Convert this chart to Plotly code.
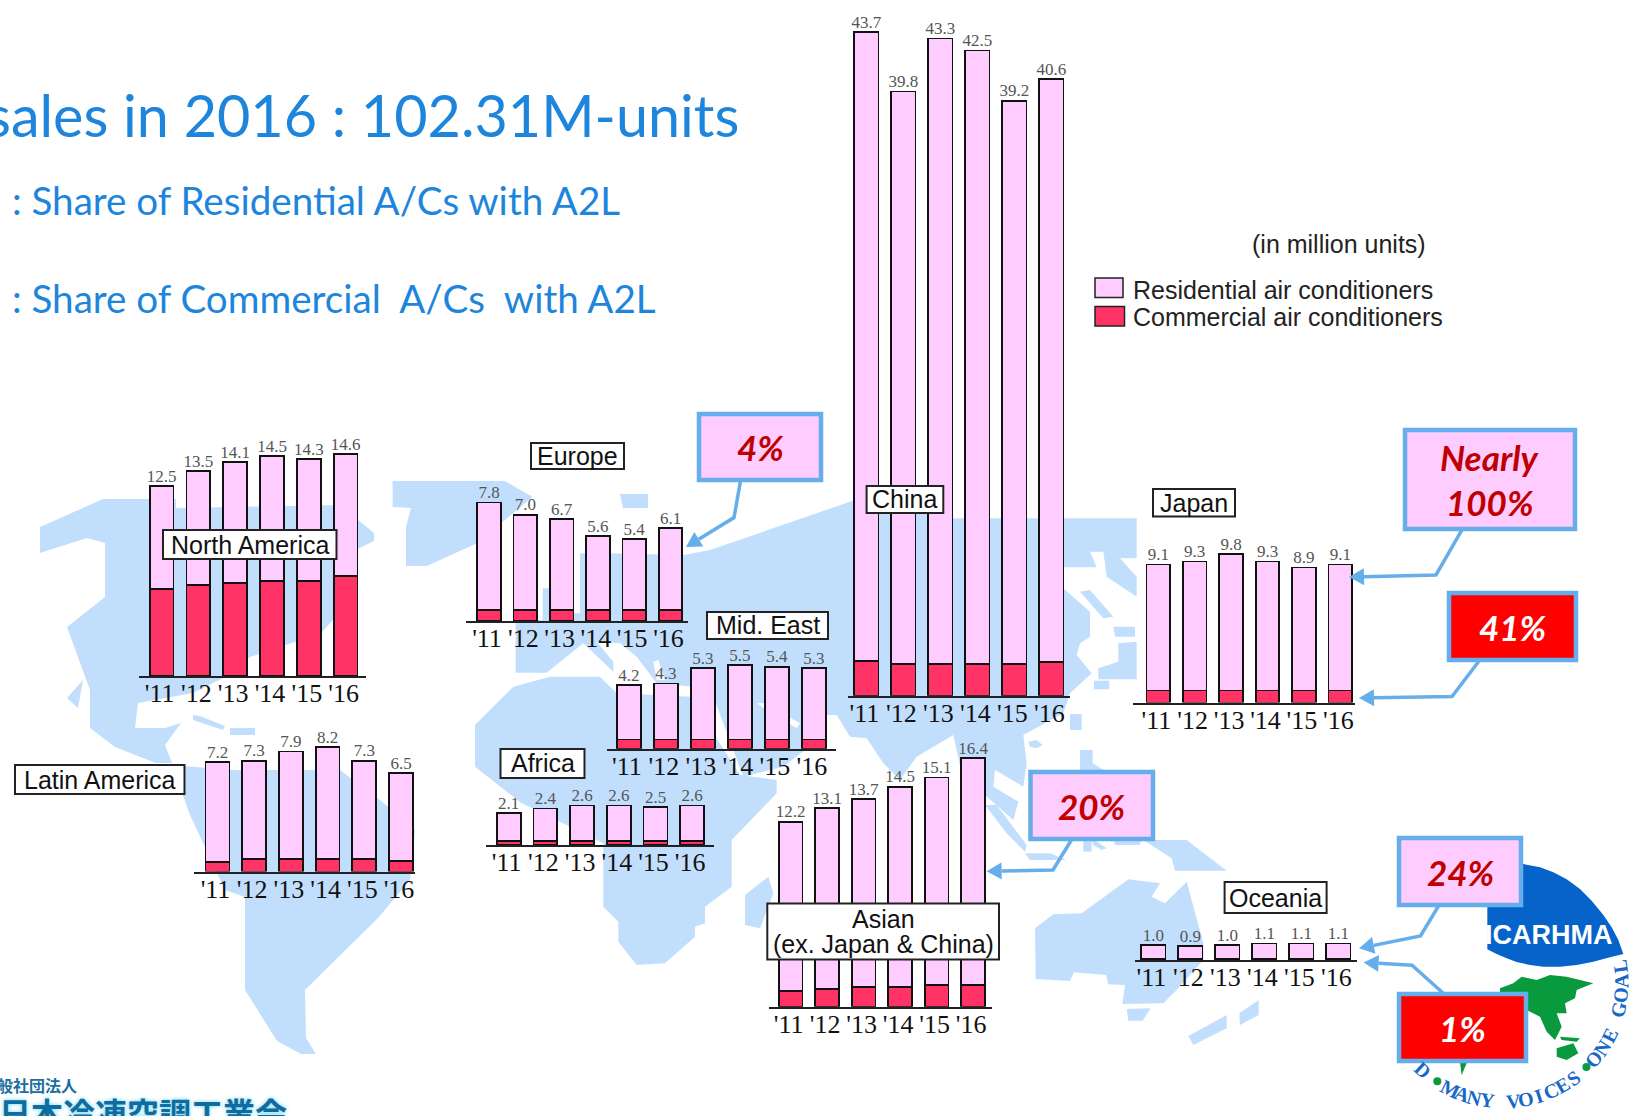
import math
import plotly.graph_objects as go

W, H = 1633, 1116
YEARS = ["'11", "'12", "'13", "'14", "'15", "'16"]

# ---------- data (million units) ----------
NA_TOTAL = [12.5, 13.5, 14.1, 14.5, 14.3, 14.6]
NA_COMM = [5.75, 6.0, 6.1, 6.25, 6.25, 6.6]
LATAM_TOTAL = [7.2, 7.3, 7.9, 8.2, 7.3, 6.5]
LATAM_COMM = [0.6, 0.8, 0.8, 0.8, 0.8, 0.7]
EUROPE_TOTAL = [7.8, 7.0, 6.7, 5.6, 5.4, 6.1]
EUROPE_COMM = [0.7, 0.7, 0.7, 0.7, 0.7, 0.7]
MIDEAST_TOTAL = [4.2, 4.3, 5.3, 5.5, 5.4, 5.3]
MIDEAST_COMM = [0.6, 0.6, 0.6, 0.6, 0.6, 0.6]
AFRICA_TOTAL = [2.1, 2.4, 2.6, 2.6, 2.5, 2.6]
AFRICA_COMM = [0.25, 0.25, 0.25, 0.25, 0.25, 0.25]
CHINA_TOTAL = [43.7, 39.8, 43.3, 42.5, 39.2, 40.6]
CHINA_COMM = [2.3, 2.1, 2.1, 2.1, 2.1, 2.2]
ASIA_TOTAL = [12.2, 13.1, 13.7, 14.5, 15.1, 16.4]
ASIA_COMM = [1.05, 1.15, 1.3, 1.3, 1.45, 1.45]
JAPAN_TOTAL = [9.1, 9.3, 9.8, 9.3, 8.9, 9.1]
JAPAN_COMM = [0.8, 0.8, 0.8, 0.8, 0.8, 0.8]
OCEANIA_TOTAL = [1.0, 0.9, 1.0, 1.1, 1.1, 1.1]
OCEANIA_COMM = [0.1, 0.1, 0.1, 0.1, 0.1, 0.1]

SERIES = [
    ("North America", NA_TOTAL, NA_COMM),
    ("Latin America", LATAM_TOTAL, LATAM_COMM),
    ("Europe", EUROPE_TOTAL, EUROPE_COMM),
    ("Mid. East", MIDEAST_TOTAL, MIDEAST_COMM),
    ("Africa", AFRICA_TOTAL, AFRICA_COMM),
    ("China", CHINA_TOTAL, CHINA_COMM),
    ("Asian", ASIA_TOTAL, ASIA_COMM),
    ("Japan", JAPAN_TOTAL, JAPAN_COMM),
    ("Oceania", OCEANIA_TOTAL, OCEANIA_COMM),
]

# ---------- placement on the page (pixels) ----------
PX_PER_UNIT = 15.18
# axis left, axis right, baseline, first bar centre, bar step
GEOM = {
    "North America": (139, 366, 676, 161.6, 36.8),
    "Latin America": (194, 415, 871.5, 217.5, 36.7),
    "Europe": (466, 688, 621, 489, 36.3),
    "Mid. East": (607, 836, 748.7, 628.8, 37.0),
    "Africa": (486, 714, 845, 508.7, 36.7),
    "China": (848, 1070, 695.7, 866.4, 37.0),
    "Asian": (768.5, 992, 1006.8, 790.7, 36.5),
    "Japan": (1133, 1355, 702.6, 1158.3, 36.4),
    "Oceania": (1135, 1357, 960, 1153.4, 37.0),
}
# x0, x1, y0, y1 and text lines of the region name boxes
LABEL_BOXES = [
    (163, 336.5, 530, 559, ["North America"]),
    (15, 184.5, 765, 794, ["Latin America"]),
    (531, 624, 443, 469, ["Europe"]),
    (707, 828, 612, 639, ["Mid. East"]),
    (500.5, 584.5, 749, 778, ["Africa"]),
    (866.6, 943.3, 486, 513, ["China"]),
    (767.3, 999, 903.5, 959.5, ["Asian", "(ex. Japan & China)"]),
    (1153, 1235, 489, 516.5, ["Japan"]),
    (1224.6, 1326.6, 882, 913, ["Oceania"]),
]
# callouts: box, fill, text colour, text lines, line route ending at arrow tip
CALLOUTS = [
    ((699, 821, 414, 480), "#FFCCFF", "#C00000", ["4%"], [(740.5, 481), (734, 517.6), (686, 547)]),
    ((1405, 1575, 430, 529), "#FFCCFF", "#C00000", ["Nearly", "100%"], [(1462.5, 529), (1436, 575), (1349, 577)]),
    ((1449, 1576, 593, 660), "#FF0000", "#FFFFFF", ["41%"], [(1479, 661), (1452, 696.5), (1359, 698)]),
    ((1030.5, 1153, 772, 839), "#FFCCFF", "#C00000", ["20%"], [(1071.4, 840), (1053, 870), (986.6, 871.3)]),
    ((1399, 1521, 838, 905), "#FFCCFF", "#C00000", ["24%"], [(1438.7, 905.7), (1420.5, 936), (1359, 948.3)]),
    ((1399, 1526, 994, 1061), "#FF0000", "#FFFFFF", ["1%"], [(1443, 993), (1412, 965.3), (1363.6, 962.5)]),
]

PINK = "#FFCCFF"
RED = "#FF3366"
MAPC = "#C1DFFC"
BLUE = "#66AEEB"
TITLE = "#1E85DC"

# map outlines, (origin x, origin y, divisor, points)
LAND = [
    (0, 0, 1, [(40, 527), (103, 499), (176, 499), (176, 508), (340, 505), (374, 533), (374, 541), (335, 560),
               (358, 593), (321, 633), (250, 657), (225, 677), (193, 693), (138, 703), (135, 728), (165, 728),
               (181, 723), (165, 745), (172, 763), (156, 763), (115, 747), (90, 728), (90, 690), (67, 627),
               (105, 597), (105, 543), (87, 538), (40, 553)]),
    (0, 0, 1, [(83, 680), (78, 708), (67, 698)]),
    (0, 0, 1, [(193, 715), (200, 716), (225, 726), (223, 730), (193, 720)]),
    (0, 0, 1, [(230, 728), (255, 728), (255, 735), (230, 735)]),
    (0, 0, 1, [(172, 765), (230, 770), (340, 770), (380, 800), (415, 830), (410, 880), (378, 918), (305, 990),
               (306, 1038), (316, 1054), (301, 1054), (277, 1041), (245, 990), (245, 897), (225, 890), (190, 815)]),
    (0, 0, 1, [(392.6, 481), (505, 481), (532.6, 497), (477.5, 543), (427, 566), (406, 566), (406, 527),
               (411, 508), (392.6, 507)]),
    (0, 0, 1, [(620, 494), (648, 494), (648, 508), (623, 508)]),
    (450, 480, 3, [(197, 578), (197, 420), (278, 420), (278, 325), (300, 325), (300, 400), (390, 400), (390, 220),
                   (480, 220), (700, 225), (780, 210), (1215, 60), (1500, 115), (2060, 115), (2060, 235),
                   (2010, 235), (2060, 290), (2060, 350), (1970, 290), (1960, 215), (1920, 215), (1940, 262),
                   (1840, 262), (1840, 325), (1920, 395), (1920, 470), (1890, 490), (1880, 525), (1925, 580),
                   (1860, 640), (1840, 700), (1720, 765), (1730, 850), (1720, 920), (1635, 870), (1630, 920),
                   (1705, 965), (1690, 1020), (1605, 945), (1535, 880), (1510, 765), (1400, 830), (1350, 900),
                   (1300, 850), (1250, 775), (1200, 770), (1160, 705), (1130, 705), (1130, 760), (1000, 860),
                   (880, 890), (790, 650), (730, 620), (620, 610), (560, 530), (510, 490), (440, 485), (490, 545),
                   (490, 575), (400, 490), (290, 578)]),
    (450, 480, 3, [(450, 590), (500, 640), (720, 650), (870, 885), (980, 900), (980, 940), (845, 1080), (845, 1220),
                   (765, 1280), (765, 1330), (735, 1340), (735, 1370), (645, 1450), (560, 1455), (505, 1385),
                   (505, 1325), (460, 1280), (460, 1090), (300, 1010), (215, 970), (75, 860), (75, 735), (190, 620),
                   (300, 590)]),
    (450, 480, 3, [(885, 1245), (955, 1190), (970, 1240), (930, 1345), (885, 1335)]),
    (850, 480, 3, [(690, 335), (720, 330), (790, 410), (760, 415)]),
    (850, 480, 3, [(790, 440), (855, 440), (855, 470), (795, 470)]),
    (850, 480, 3, [(805, 490), (860, 485), (860, 598), (745, 598), (745, 565), (805, 545)]),
    (850, 480, 3, [(732, 602), (778, 602), (778, 628), (732, 628)]),
    (850, 480, 3, [(660, 702), (695, 702), (695, 750), (660, 750)]),
    (850, 480, 3, [(535, 785), (560, 780), (578, 795), (560, 805), (540, 800)]),
    (850, 480, 3, [(690, 810), (728, 810), (728, 850), (770, 875), (690, 880)]),
    (850, 480, 3, [(405, 975), (440, 975), (530, 1095), (525, 1115), (470, 1060)]),
    (850, 480, 3, [(525, 1120), (600, 1120), (650, 1140), (540, 1140)]),
    (850, 480, 3, [(700, 1075), (725, 1075), (725, 1115), (700, 1115)]),
    (850, 480, 3, [(725, 1075), (770, 1105), (755, 1110), (730, 1095)]),
    (850, 480, 3, [(790, 1075), (875, 1075), (870, 1095), (795, 1095)]),
    (1000, 800, 3, [(430, 120), (560, 120), (680, 212), (525, 212), (515, 175)]),
    (1000, 800, 3, [(105, 385), (160, 343), (245, 340), (385, 238), (480, 250), (455, 290), (495, 310), (560, 245),
                    (610, 430), (610, 480), (530, 570), (490, 610), (367, 612), (375, 555), (325, 553), (318, 525),
                    (222, 517), (210, 543), (107, 537)]),
    (1000, 800, 3, [(380, 627), (452, 625), (428, 662), (385, 662)]),
    (1000, 800, 3, [(718, 640), (776, 600), (776, 645), (720, 675)]),
    (1000, 800, 3, [(565, 708), (680, 645), (680, 685), (580, 735)]),
]
WATER = [
    (450, 480, 3, [(920, 670), (945, 670), (1050, 730), (1040, 745)]),
    (450, 480, 3, [(610, 545), (625, 540), (645, 600), (620, 600)]),
]
LOGO_DISC = [(322, 72), (380, 68), (430, 72), (480, 82), (520, 97), (560, 118), (600, 147), (635, 182), (670, 225),
             (695, 262), (715, 300), (730, 342), (690, 352), (640, 365), (590, 375), (540, 380), (490, 380),
             (450, 375), (410, 366), (380, 355), (350, 342), (322, 328)]
LOGO_GREEN = [
    [(360, 445), (400, 430), (425, 410), (470, 420), (510, 405), (560, 410), (640, 430), (590, 450), (585, 475),
     (555, 490), (560, 520), (530, 520), (545, 560), (525, 600), (500, 575), (480, 530), (440, 510), (360, 500)],
    [(530, 625), (580, 610), (595, 640), (560, 660), (530, 650)],
    [(540, 590), (600, 595), (590, 605), (545, 600)],
    [(240, 665), (260, 670), (245, 705)],
]
LOGO_BOTTOM_TEXT = "MANY VOICES"
LOGO_RIGHT_TEXT = "ONE GOAL"


def px_path(points, close=True):
    s = "M " + " L ".join(f"{x / W:.5f} {1 - y / H:.5f}" for x, y in points)
    return s + (" Z" if close else "")


shapes, annos = [], []


def poly(points, fill, line=None, lw=0, layer="above"):
    shapes.append(dict(type="path", xref="paper", yref="paper", path=px_path(points), fillcolor=fill,
                       line=dict(color=line or "rgba(0,0,0,0)", width=lw), layer=layer))


def text(x, y, s, size, family="Liberation Sans", color="#111", anchor="center", angle=0, **font):
    annos.append(dict(xref="paper", yref="paper", x=x / W, y=1 - y / H, text=s, showarrow=False, xanchor=anchor,
                      yanchor="middle", textangle=angle, borderpad=0,
                      font=dict(size=size, family=family, color=color, **font)))


def box(x0, x1, y0, y1, fill, line, lw, layer="above"):
    poly([(x0, y0), (x1, y0), (x1, y1), (x0, y1)], fill, line, lw, layer)


# map
for ox, oy, d, pts in LAND:
    poly([(ox + x / d, oy + y / d) for x, y in pts], MAPC, layer="below")
for ox, oy, d, pts in WATER:
    poly([(ox + x / d, oy + y / d) for x, y in pts], "#FFFFFF", layer="below")

# logo
lx = lambda v: 1380 + v / 3
ly = lambda v: 840 + v / 3
poly([(lx(a), ly(b)) for a, b in LOGO_DISC], "#0563C9", layer="below")
for g in LOGO_GREEN:
    poly([(lx(a), ly(b)) for a, b in g], "#089A3C", layer="below")
text(1549, 935, "<b>ICARHMA</b>", 27, color="#FFFFFF")
CX, CY, CR = 1503.3, 983.3, 118


def ring(s, a0, a1):
    for i, ch in enumerate(s):
        a = a0 + (a1 - a0) * i / (len(s) - 1)
        r = math.radians(a)
        if ch != " ":
            text(CX + CR * math.sin(r), CY + CR * math.cos(r), "<b>" + ch + "</b>", 20, family="Liberation Serif",
                 color="#1768C8", angle=-a)


ring(LOGO_BOTTOM_TEXT, -26.5, 36.5)
ring(LOGO_RIGHT_TEXT, 50, 98)
text(CX + CR * math.sin(math.radians(-43)), CY + CR * math.cos(math.radians(-43)), "<b>D</b>", 20,
     family="Liberation Serif", color="#1768C8", angle=43)
for a in (-34, 44.8):
    r = math.radians(a)
    xc, yc = CX + CR * math.sin(r), CY + CR * math.cos(r)
    shapes.append(dict(type="circle", xref="paper", yref="paper", x0=(xc - 4) / W, x1=(xc + 4) / W,
                       y0=1 - (yc + 4) / H, y1=1 - (yc - 4) / H, fillcolor="#089A3C", line=dict(width=0),
                       layer="below"))

# heading texts
text(740, 114, "sales in 2016 : 102.31M-units", 57.5, family="Lato", color=TITLE, anchor="right")
text(11, 200, ": Share of Residential A/Cs with A2L", 38.6, family="Lato", color=TITLE, anchor="left")
text(11, 298, ": Share of Commercial\u00a0 A/Cs\u00a0 with A2L", 38.6, family="Lato", color=TITLE, anchor="left")

# legend
text(1339, 244, "(in million units)", 25, anchor="center", color="#222")
box(1095, 1123, 278, 297.5, PINK, "#222", 1.5)
box(1095, 1124.5, 306.5, 326, RED, "#222", 1.5)
text(1131.5, 290, "Residential air conditioners", 25, anchor="left", color="#222")
text(1131.5, 317, "Commercial air conditioners", 25, anchor="left", color="#222")

# charts
data = []
layout_axes = {}
for i, (name, total, comm) in enumerate(SERIES):
    n = i + 1
    left, right, base, c0, step = GEOM[name]
    ymax = max(total) * 1.02
    top = base - ymax * PX_PER_UNIT
    xa, ya = f"x{n}", f"y{n}"
    res = [round(t - c, 3) for t, c in zip(total, comm)]
    data.append(go.Bar(x=YEARS, y=comm, name="Commercial air conditioners", xaxis=xa, yaxis=ya,
                       marker=dict(color=RED, line=dict(color="#111", width=1.8)), showlegend=False))
    data.append(go.Bar(x=YEARS, y=res, name="Residential air conditioners", xaxis=xa, yaxis=ya,
                       marker=dict(color=PINK, line=dict(color="#111", width=1.8)), showlegend=False))
    data.append(go.Scatter(x=YEARS, y=total, mode="text", text=[f"{v:.1f}" for v in total],
                           textposition="top center", xaxis=xa, yaxis=ya, cliponaxis=False, showlegend=False,
                           textfont=dict(family="Liberation Serif", size=17, color="#555")))
    layout_axes[f"xaxis{n}"] = dict(domain=[left / W, right / W], anchor=ya, type="category",
                                    categoryorder="array", categoryarray=YEARS,
                                    range=[(left - c0) / step, (right - c0) / step], showgrid=False, zeroline=False,
                                    showline=True, linecolor="#222", linewidth=2, ticks="", fixedrange=True,
                                    ticklabelstandoff=-7, ticklabelshift=-2,
                                    tickfont=dict(family="Liberation Serif", size=26, color="#111"))
    layout_axes[f"yaxis{n}"] = dict(domain=[1 - base / H, 1 - top / H], anchor=xa, range=[0, ymax], visible=False,
                                    fixedrange=True)

# region name boxes
for x0, x1, y0, y1, lines in LABEL_BOXES:
    box(x0, x1, y0, y1, "#FFFFFF", "#222", 2)
    mid = (y0 + y1) / 2
    for k, ln in enumerate(lines):
        text((x0 + x1) / 2, mid + 25 * (k - (len(lines) - 1) / 2), ln, 25, color="#111")

# callouts
for (x0, x1, y0, y1), fill, col, lines, route in CALLOUTS:
    tip = route[-1]
    prev = route[-2]
    d = math.hypot(tip[0] - prev[0], tip[1] - prev[1])
    ux, uy = (tip[0] - prev[0]) / d, (tip[1] - prev[1]) / d
    bx, by = tip[0] - 15 * ux, tip[1] - 15 * uy
    shapes.append(dict(type="path", xref="paper", yref="paper", path=px_path(route[:-1] + [(bx, by)], close=False),
                       line=dict(color=BLUE, width=3.5), layer="above"))
    poly([tip, (bx - 8.5 * uy, by + 8.5 * ux), (bx + 8.5 * uy, by - 8.5 * ux)], BLUE)
    box(x0, x1, y0, y1, fill, BLUE, 4.5)
    mid = (y0 + y1) / 2
    for k, ln in enumerate(lines):
        text((x0 + x1) / 2, mid + 45 * (k - (len(lines) - 1) / 2), ln, 35, family="Lato", color=col, weight="bold",
             style="italic")

# association name, cut by the page edge
text(78, 1085, "一般社団法人", 16, family="Noto Sans CJK JP", color="#1B6E9E", anchor="right", weight="bold")
text(288, 1112, "日本冷凍空調工業会", 32, family="Noto Sans CJK JP", color="#0E6C9E", anchor="right", weight="bold",
     shadow="0 0 4px #6FD0F0")

fig = go.Figure(data=data)
fig.update_layout(width=W, height=H, margin=dict(l=0, r=0, t=0, b=0, autoexpand=False), paper_bgcolor="#FFFFFF",
                  plot_bgcolor="rgba(0,0,0,0)", barmode="stack", bargap=0.35, showlegend=False, shapes=shapes,
                  annotations=annos, hovermode=False, **layout_axes)
fig.write_html("out.html", post_script="document.body.style.margin='0';", config={"displayModeBar": False})
